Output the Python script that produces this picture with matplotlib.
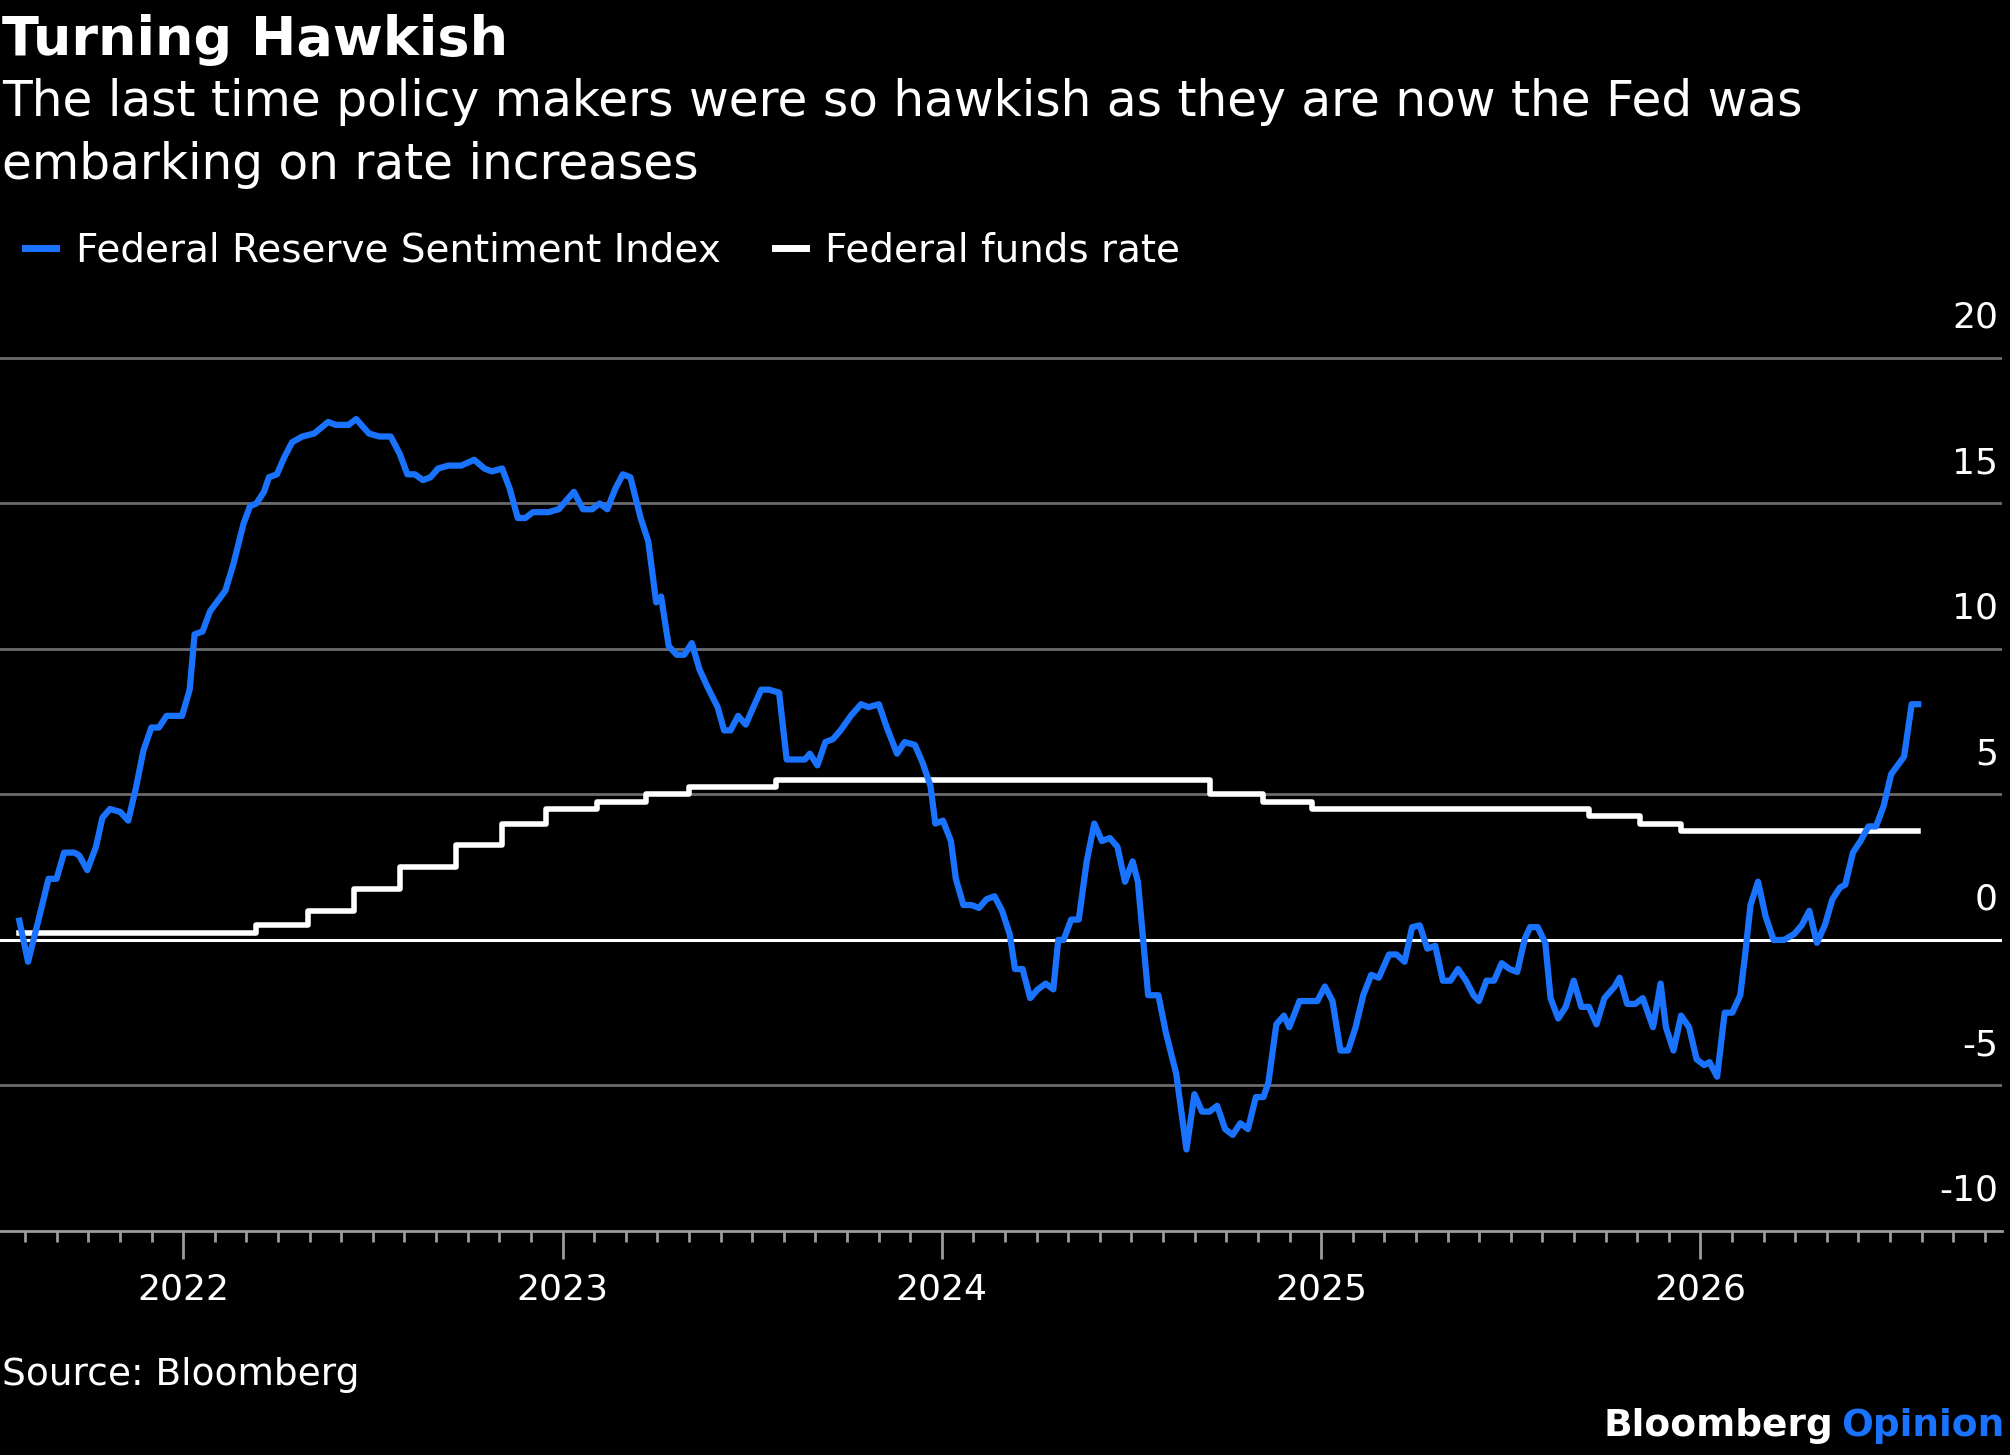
import matplotlib
matplotlib.use("Agg")
import matplotlib.pyplot as plt
from matplotlib.lines import Line2D

plt.rcParams['font.family'] = ['DejaVu Sans']

fsi_dates = [2021.568,2021.591,2021.618,2021.645,2021.666,2021.686,2021.713,2021.726,2021.747,2021.770,
 2021.787,2021.807,2021.834,2021.855,2021.875,2021.895,2021.916,2021.936,2021.956,2021.997,
 2022.017,2022.030,2022.051,2022.071,2022.111,2022.132,2022.159,2022.176,2022.193,2022.213,
 2022.226,2022.247,2022.267,2022.287,2022.314,2022.345,2022.382,2022.402,2022.436,2022.456,
 2022.490,2022.517,2022.547,2022.571,2022.591,2022.611,2022.632,2022.652,2022.672,2022.699,
 2022.733,2022.767,2022.794,2022.814,2022.841,2022.861,2022.882,2022.902,2022.922,2022.943,
 2022.963,2022.990,2023.010,2023.030,2023.054,2023.078,2023.098,2023.118,2023.139,2023.159,
 2023.179,2023.206,2023.226,2023.247,2023.260,2023.280,2023.301,2023.321,2023.341,2023.361,
 2023.382,2023.409,2023.426,2023.443,2023.463,2023.483,2023.510,2023.524,2023.544,2023.571,
 2023.591,2023.611,2023.639,2023.652,2023.672,2023.693,2023.713,2023.733,2023.760,2023.787,
 2023.807,2023.834,2023.855,2023.882,2023.902,2023.929,2023.949,2023.970,2023.983,2024.003,
 2024.024,2024.037,2024.057,2024.078,2024.098,2024.118,2024.139,2024.159,2024.179,2024.193,
 2024.213,2024.233,2024.253,2024.274,2024.294,2024.307,2024.321,2024.341,2024.361,2024.382,
 2024.402,2024.422,2024.443,2024.463,2024.483,2024.503,2024.517,2024.544,2024.571,2024.591,
 2024.618,2024.645,2024.666,2024.686,2024.706,2024.726,2024.747,2024.767,2024.787,2024.807,
 2024.828,2024.848,2024.861,2024.882,2024.902,2024.916,2024.943,2024.963,2024.990,2025.010,
 2025.030,2025.051,2025.071,2025.091,2025.111,2025.132,2025.152,2025.179,2025.199,2025.220,
 2025.240,2025.260,2025.280,2025.301,2025.321,2025.341,2025.361,2025.382,2025.402,2025.416,
 2025.436,2025.456,2025.476,2025.497,2025.517,2025.537,2025.551,2025.571,2025.591,2025.605,
 2025.625,2025.645,2025.666,2025.686,2025.706,2025.726,2025.747,2025.774,2025.787,2025.807,
 2025.828,2025.848,2025.875,2025.895,2025.909,2025.929,2025.949,2025.970,2025.990,2026.010,
 2026.024,2026.044,2026.064,2026.084,2026.105,2026.118,2026.132,2026.152,2026.172,2026.193,
 2026.220,2026.247,2026.267,2026.287,2026.307,2026.328,2026.348,2026.368,2026.382,2026.402,
 2026.422,2026.443,2026.463,2026.483,2026.503,2026.537,2026.557,2026.574]

fsi_values = [0.66,-0.75,0.66,2.1,2.1,3.0,3.0,2.9,2.4,3.2,
 4.2,4.5,4.4,4.1,5.2,6.5,7.3,7.3,7.7,7.7,
 8.6,10.5,10.6,11.3,12.0,12.9,14.3,14.9,15.0,15.4,
 15.9,16.0,16.6,17.1,17.3,17.4,17.8,17.7,17.7,17.9,
 17.4,17.3,17.3,16.7,16.0,16.0,15.8,15.9,16.2,16.3,
 16.3,16.5,16.2,16.1,16.2,15.5,14.5,14.5,14.7,14.7,
 14.7,14.8,15.1,15.4,14.8,14.8,15.0,14.8,15.5,16.0,
 15.9,14.5,13.7,11.6,11.8,10.1,9.8,9.8,10.2,9.3,
 8.7,8.0,7.2,7.2,7.7,7.4,8.2,8.6,8.6,8.5,
 6.2,6.2,6.2,6.4,6.0,6.8,6.9,7.2,7.7,8.1,
 8.0,8.1,7.3,6.4,6.8,6.7,6.1,5.3,4.0,4.1,
 3.4,2.1,1.2,1.2,1.1,1.4,1.5,1.0,0.2,-1.0,
 -1.0,-2.0,-1.7,-1.5,-1.7,0.0,0.0,0.7,0.7,2.7,
 4.0,3.4,3.5,3.2,2.0,2.7,2.0,-1.9,-1.9,-3.2,
 -4.6,-7.2,-5.3,-5.9,-5.9,-5.7,-6.5,-6.7,-6.3,-6.5,
 -5.4,-5.4,-4.9,-2.9,-2.6,-3.0,-2.1,-2.1,-2.1,-1.6,
 -2.1,-3.8,-3.8,-3.0,-1.9,-1.2,-1.3,-0.5,-0.5,-0.75,
 0.44,0.5,-0.3,-0.2,-1.4,-1.4,-1.0,-1.4,-1.9,-2.1,
 -1.4,-1.4,-0.8,-1.0,-1.1,0.04,0.44,0.44,-0.1,-2.0,
 -2.7,-2.3,-1.4,-2.3,-2.3,-2.9,-2.0,-1.6,-1.3,-2.2,
 -2.2,-2.0,-3.0,-1.5,-3.0,-3.8,-2.6,-3.0,-4.1,-4.3,
 -4.2,-4.7,-2.5,-2.5,-1.9,-0.5,1.2,2.0,0.8,0.0,
 0.0,0.2,0.5,1.0,-0.1,0.5,1.4,1.8,1.9,3.0,
 3.4,3.9,3.9,4.6,5.7,6.3,8.1,8.1]

ffr_dates = [2021.568,2022.193,2022.328,2022.449,2022.571,2022.720,2022.841,2022.956,2023.091,
 2023.220,2023.334,2023.564,2024.706,2024.848,2024.976,2025.706,2025.841,2025.949,2026.574]
ffr_values = [0.25,0.5,1.0,1.75,2.5,3.25,4.0,4.5,4.75,5.0,5.25,5.5,5.0,4.75,4.5,4.25,4.0,3.75,3.75]

year_ticks = [2022, 2023, 2024, 2025, 2026]
y_ticks = [-10, -5, 0, 5, 10, 15, 20]

BLUE = '#1a73ff'
fig = plt.figure(figsize=(20.1, 14.55), dpi=100, facecolor='black')
ax = fig.add_axes([0.0, 0.154, 0.996, 0.626], facecolor='black')
ax.set_xlim(2021.517, 2026.795)
ax.set_ylim(-10, 21.3)

for v in y_ticks[1:]:
    ax.axhline(v, color='white' if v == 0 else '#6b6b6b', lw=2.2 if v == 0 else 2, zorder=1)
    ax.text(0.998, v + 0.8, str(v), transform=ax.get_yaxis_transform(), ha='right', va='bottom',
            color='white', fontsize=26)
ax.text(0.998, -10 + 0.8, "-10", transform=ax.get_yaxis_transform(), ha='right', va='bottom',
        color='white', fontsize=26)

ax.step(ffr_dates, ffr_values, where='post', color='white', lw=4, zorder=3)
ax.plot(fsi_dates, fsi_values, color=BLUE, lw=4.5, zorder=4)

ax.set_yticks([])
for s in ['top', 'right', 'left']:
    ax.spines[s].set_visible(False)
ax.spines['bottom'].set_color('#9a9a9a')
ax.spines['bottom'].set_linewidth(2)
ax.set_xticks(year_ticks)
ax.set_xticklabels([str(y) for y in year_ticks])
months = [2021.5 + 1/12 * i for i in range(1, 64)]
ax.set_xticks(months, minor=True)
ax.tick_params(axis='x', which='major', length=20, width=2, color='#9a9a9a', colors='white',
               labelsize=26, pad=10)
ax.tick_params(axis='x', which='minor', length=8, width=2, color='#9a9a9a')

fig.text(0.001, 0.962, "Turning Hawkish", color='white', fontsize=39, fontweight='bold', va='baseline')
fig.text(0.001, 0.920, "The last time policy makers were so hawkish as they are now the Fed was",
         color='white', fontsize=35, va='baseline')
fig.text(0.001, 0.877, "embarking on rate increases", color='white', fontsize=35, va='baseline')

handles = [Line2D([], [], color=BLUE, lw=5), Line2D([], [], color='white', lw=5)]
leg = fig.legend(handles, ["Federal Reserve Sentiment Index", "Federal funds rate"],
                 loc='center left', bbox_to_anchor=(-0.005, 0.828), ncol=2, frameon=False,
                 fontsize=28, labelcolor='white', handlelength=0.8, handletextpad=0.5, columnspacing=1.4)

fig.text(0.001, 0.055, "Source: Bloomberg", color='white', fontsize=27, va='center')
fig.text(0.997, 0.020, "Opinion", color=BLUE, fontsize=27, fontweight='bold', va='center', ha='right')
fig.text(0.912, 0.020, "Bloomberg", color='white', fontsize=27, fontweight='bold', va='center', ha='right')

fig.savefig("out.png", dpi=100, facecolor='black')
